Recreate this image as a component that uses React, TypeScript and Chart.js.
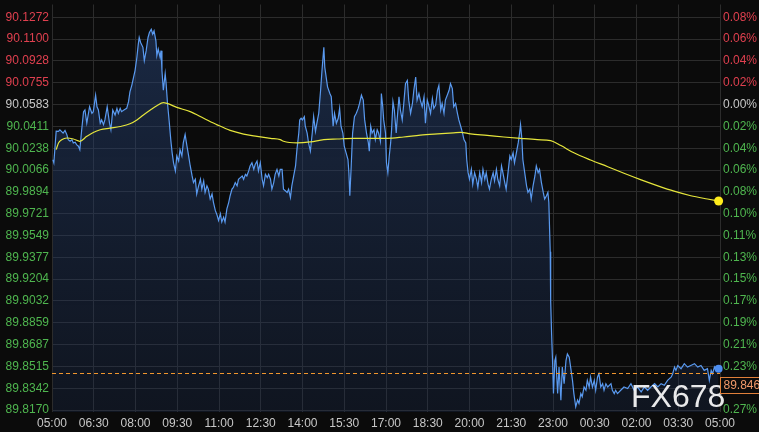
import React, { useEffect, useRef } from "react";
import { Chart, registerables } from "chart.js";

Chart.register(...registerables);

// ---- axis ticks ----
const xTickMinutes = [0, 90, 180, 270, 360, 450, 540, 630, 720, 810, 900, 990, 1080, 1170, 1260, 1350, 1440];
const xTickLabels = ["05:00", "06:30", "08:00", "09:30", "11:00", "12:30", "14:00", "15:30", "17:00", "18:30", "20:00", "21:30", "23:00", "00:30", "02:00", "03:30", "05:00"];
const priceTicks = [89.817, 89.8342, 89.8515, 89.8687, 89.8859, 89.9032, 89.9204, 89.9377, 89.9549, 89.9721, 89.9894, 90.0066, 90.0238, 90.0411, 90.0583, 90.0755, 90.0928, 90.11, 90.1272];
const percentTickLabels = ["0.27%", "0.25%", "0.23%", "0.21%", "0.19%", "0.17%", "0.15%", "0.13%", "0.11%", "0.10%", "0.08%", "0.06%", "0.04%", "0.02%", "0.00%", "0.02%", "0.04%", "0.06%", "0.08%"];
const baselinePrice = 90.0583;
const lastPrice = 89.846;
const lastPriceLabel = "89.846";
const yMin = 89.81544;
const yMax = 90.13736;

// ---- price series (minutes after 05:00) ----
const priceMinutes = [
  2, 4, 9, 14, 17, 24, 28, 32, 35, 39,
  43, 46, 50, 53, 57, 60, 64, 68, 71, 75,
  81, 86, 89, 94, 97, 100, 104, 107, 111, 114,
  119, 124, 127, 131, 136, 140, 143, 147, 150, 155,
  161, 165, 168, 172, 176, 179, 183, 186, 188, 191,
  196, 199, 203, 207, 210, 214, 217, 220, 224, 226,
  229, 233, 235, 237, 240, 244, 246, 249, 251, 253,
  256, 259, 262, 266, 269, 273, 276, 280, 283, 287,
  291, 294, 298, 302, 305, 309, 312, 316, 320, 323,
  327, 330, 334, 337, 341, 345, 348, 352, 356, 359,
  363, 366, 370, 373, 377, 381, 384, 388, 391, 395,
  399, 402, 406, 410, 413, 417, 420, 424, 427, 431,
  435, 438, 442, 445, 449, 453, 456, 460, 464, 467,
  471, 474, 478, 481, 485, 489, 492, 496, 499, 503,
  507, 510, 514, 517, 521, 525, 528, 532, 534, 537,
  540, 544, 546, 550, 553, 557, 561, 564, 568, 571,
  575, 579, 582, 586, 588, 592, 594, 599, 602, 606,
  609, 613, 617, 620, 623, 627, 630, 634, 638, 640,
  642, 645, 648, 652, 656, 660, 663, 667, 671, 674,
  678, 682, 684, 687, 690, 694, 697, 701, 704, 708,
  710, 713, 715, 719, 721, 724, 727, 730, 732, 735,
  738, 742, 744, 748, 751, 755, 758, 762, 766, 769,
  773, 777, 780, 784, 787, 791, 794, 798, 802, 805,
  809, 812, 816, 820, 823, 827, 831, 834, 838, 841,
  845, 848, 852, 856, 859, 863, 866, 870, 874, 877,
  881, 885, 888, 892, 894, 897, 900, 904, 907, 911,
  915, 918, 922, 926, 929, 933, 936, 940, 943, 947,
  951, 954, 958, 961, 965, 969, 972, 976, 979, 983,
  987, 990, 994, 997, 1001, 1005, 1008, 1010, 1013, 1015,
  1019, 1023, 1026, 1030, 1033, 1037, 1041, 1044, 1048, 1051,
  1055, 1059, 1062, 1066, 1069, 1071, 1074, 1075, 1077, 1079,
  1081, 1084, 1086, 1090, 1093, 1097, 1100, 1104, 1108, 1111,
  1115, 1118, 1122, 1125, 1129, 1133, 1136, 1140, 1143, 1147,
  1151, 1154, 1158, 1161, 1165, 1169, 1172, 1176, 1179, 1183,
  1187, 1190, 1194, 1198, 1205, 1208, 1212, 1215, 1219, 1226,
  1233, 1241, 1248, 1255, 1262, 1270, 1277, 1284, 1291, 1299,
  1306, 1313, 1320, 1327, 1335, 1338, 1342, 1345, 1349, 1356,
  1363, 1370, 1377, 1385, 1392, 1399, 1406, 1413, 1417, 1421,
  1424, 1428, 1431, 1437,
];
const priceValues = [
  90.0147, 90.0123, 90.0373, 90.0371, 90.0384, 90.0358, 90.0379, 90.0346, 90.0306, 90.0293,
  90.0306, 90.028, 90.0285, 90.0267, 90.0254, 90.0227, 90.0384, 90.0527, 90.054, 90.0436,
  90.0566, 90.0514, 90.0527, 90.0657, 90.0566, 90.054, 90.0436, 90.0462, 90.0424, 90.0462,
  90.0566, 90.0436, 90.0384, 90.054, 90.0501, 90.0553, 90.0514, 90.0553, 90.0527, 90.054,
  90.0553, 90.0606, 90.0684, 90.0735, 90.0801, 90.0852, 90.0957, 90.1061, 90.1113, 90.1074,
  90.1035, 90.0931, 90.1009, 90.1113, 90.1152, 90.1178, 90.1139, 90.1165, 90.1087, 90.097,
  90.1022, 90.0957, 90.1009, 90.0852, 90.0696, 90.0827, 90.0749, 90.0592, 90.0514, 90.0436,
  90.0306, 90.0202, 90.0123, 90.0059, 90.0177, 90.0137, 90.0227, 90.0177, 90.028, 90.0346,
  90.0254, 90.0189, 90.0098, 90.0019, 89.9967, 89.9993, 89.9877, 89.9941, 89.9993, 89.9915,
  89.998, 89.9889, 89.9941, 89.9915, 89.9837, 89.9877, 89.9811, 89.9747, 89.9708, 89.9668,
  89.972, 89.9655, 89.9694, 89.9655, 89.9759, 89.9811, 89.9863, 89.9915, 89.9928, 89.9967,
  89.9941, 89.9993, 90.0006, 90.0019, 89.9993, 90.0032, 90.0019, 90.0059, 90.0098, 90.0123,
  90.0071, 90.011, 90.0137, 90.0059, 90.0123, 89.9993, 89.9941, 90.0032, 90.0006, 90.0032,
  89.9993, 89.9915, 89.9967, 90.0032, 90.0071, 90.0019, 90.0071, 90.0071, 89.9915, 89.9902,
  89.9889, 89.9915, 89.985, 89.9941, 90.0019, 90.0098, 90.0227, 90.0358, 90.0462, 90.0475,
  90.0462, 90.0488, 90.0412, 90.0358, 90.028, 90.0215, 90.0358, 90.0488, 90.0371, 90.0436,
  90.0514, 90.0696, 90.0852, 90.1035, 90.0879, 90.0774, 90.0723, 90.067, 90.0645, 90.0412,
  90.0514, 90.0436, 90.0475, 90.0553, 90.0412, 90.0358, 90.0254, 90.0202, 90.0149, 90.0045,
  89.9863, 90.0098, 90.0358, 90.0488, 90.0514, 90.0553, 90.0592, 90.0657, 90.0618, 90.0462,
  90.0358, 90.028, 90.0215, 90.0412, 90.0358, 90.0384, 90.0306, 90.0384, 90.0358, 90.0293,
  90.067, 90.0566, 90.0462, 90.0358, 90.0123, 90.0045, 90.0177, 90.028, 90.0384, 90.0606,
  90.054, 90.0358, 90.0462, 90.0645, 90.054, 90.0462, 90.0579, 90.0749, 90.0774, 90.0618,
  90.0514, 90.0592, 90.0696, 90.0801, 90.0618, 90.067, 90.0618, 90.0566, 90.0645, 90.0436,
  90.0618, 90.0579, 90.0514, 90.0631, 90.0553, 90.0579, 90.0696, 90.0735, 90.054, 90.0592,
  90.0514, 90.0618, 90.0657, 90.0696, 90.0749, 90.0709, 90.0566, 90.0592, 90.0514, 90.0462,
  90.0412, 90.0358, 90.0306, 90.028, 90.0149, 90.0045, 89.9993, 90.0071, 89.9954, 90.0045,
  89.9993, 89.9928, 90.0045, 89.9967, 90.0071, 89.9993, 90.0045, 89.9954, 89.9915, 89.9993,
  90.0045, 89.998, 90.0071, 89.9993, 89.9941, 90.0098, 90.0045, 89.9967, 89.9915, 90.0045,
  90.0177, 90.0149, 90.0202, 90.0123, 90.0202, 90.028, 90.0358, 90.0424, 90.0306, 90.0149,
  90.0045, 89.9941, 89.9889, 89.9915, 89.9837, 89.9941, 90.0019, 90.0098, 90.0045, 90.0071,
  89.9967, 89.9889, 89.9837, 89.9863, 89.9889, 89.9811, 89.942, 89.903, 89.8769, 89.8561,
  89.83, 89.8561, 89.8587, 89.83, 89.8509, 89.8248, 89.8509, 89.8378, 89.8561, 89.8613,
  89.8587, 89.8509, 89.8404, 89.83, 89.8196, 89.8248, 89.8222, 89.83, 89.8275, 89.8352,
  89.8326, 89.8404, 89.8352, 89.8431, 89.8352, 89.8404, 89.8326, 89.8431, 89.8457, 89.8352,
  89.8378, 89.8326, 89.8378, 89.8352, 89.8378, 89.8326, 89.83, 89.8326, 89.83, 89.8326,
  89.8352, 89.834, 89.8378, 89.8326, 89.8352, 89.8313, 89.8352, 89.8326, 89.8352, 89.8378,
  89.8352, 89.8378, 89.8365, 89.8404, 89.8431, 89.8457, 89.8509, 89.8483, 89.8522, 89.8496,
  89.8536, 89.8509, 89.8522, 89.8536, 89.8509, 89.8522, 89.8483, 89.8496, 89.8404, 89.8483,
  89.8457, 89.8509, 89.8483, 89.8496,
];

// ---- moving average (yellow) ----
const avgMinutes = [
  9, 14, 21, 32, 46, 60, 75, 89, 104, 125,
  147, 168, 183, 197, 212, 226, 240, 248, 269, 298,
  327, 356, 384, 413, 442, 471, 492, 499, 528, 557,
  586, 615, 650, 687, 723, 758, 794, 831, 866, 881,
  902, 938, 974, 1010, 1046, 1075, 1097, 1125, 1161, 1198,
  1233, 1270, 1306, 1341, 1377, 1413, 1437,
];
const avgValues = [
  90.0227, 90.028, 90.0306, 90.0319, 90.0311, 90.0293, 90.0332, 90.0363, 90.0384, 90.0397,
  90.041, 90.0431, 90.0462, 90.0501, 90.054, 90.0574, 90.0598, 90.0592, 90.0561, 90.0527,
  90.0475, 90.0423, 90.0379, 90.035, 90.0332, 90.0316, 90.0306, 90.0293, 90.028, 90.0288,
  90.0306, 90.0311, 90.0316, 90.0316, 90.0316, 90.0327, 90.0342, 90.0352, 90.036, 90.0363,
  90.0352, 90.034, 90.0327, 90.0316, 90.0306, 90.0298, 90.0259, 90.0202, 90.0145, 90.0092,
  90.004, 89.9988, 89.9941, 89.9899, 89.9863, 89.9837, 89.9821,
];

const FONT = '"Liberation Sans", Arial, sans-serif';
const RED = "#e0404f";
const GREEN = "#4fb64f";
const NEUTRAL = "#c8c8c8";
const GRID = "#2c2c2c";

function tickColor(v: number) {
  if (Math.abs(v - baselinePrice) < 1e-6) return NEUTRAL;
  return v > baselinePrice ? RED : GREEN;
}

const overlayPlugin = {
  id: "overlay",
  afterDatasetsDraw(chart: any) {
    const { ctx, chartArea } = chart;
    const y = Math.round(chart.scales.y.getPixelForValue(lastPrice)) + 0.5;
    ctx.save();
    ctx.strokeStyle = "#f0962e";
    ctx.lineWidth = 1;
    ctx.setLineDash([4, 3]);
    ctx.beginPath();
    ctx.moveTo(chartArea.left, y);
    ctx.lineTo(chartArea.right, y);
    ctx.stroke();
    ctx.restore();
  },
  afterDraw(chart: any) {
    const { ctx, chartArea } = chart;
    const y = Math.round(chart.scales.y.getPixelForValue(lastPrice));
    ctx.save();
    // watermark
    ctx.font = `32px ${FONT}`;
    ctx.fillStyle = "rgba(245,245,245,0.95)";
    ctx.textAlign = "left";
    ctx.textBaseline = "alphabetic";
    ctx.fillText("FX678", 631, 407);
    // last price box
    const bx = chartArea.right + 0.5;
    const by = y + 4.5;
    ctx.fillStyle = "#0b0b0b";
    ctx.fillRect(bx, by, 40, 16);
    ctx.strokeStyle = "#e0803a";
    ctx.lineWidth = 1;
    ctx.strokeRect(bx, by, 40, 16);
    ctx.font = `12px ${FONT}`;
    ctx.fillStyle = "#f29a6a";
    ctx.textBaseline = "middle";
    ctx.fillText(lastPriceLabel, bx + 3, by + 8.5);
    ctx.restore();
  },
};

export default function App() {
  const ref = useRef<HTMLCanvasElement>(null);

  useEffect(() => {
    const canvas = ref.current;
    if (!canvas) return;
    const lastP = priceMinutes.length - 1;
    const lastA = avgMinutes.length - 1;
    const chart = new Chart(canvas, {
      type: "line",
      data: {
        datasets: [
          {
            label: "avg",
            data: avgMinutes.map((m, i) => ({ x: m, y: avgValues[i] })),
            borderColor: "#e6e63c",
            borderWidth: 1.2,
            cubicInterpolationMode: "monotone",
            fill: false,
            pointRadius: (c: any) => (c.dataIndex === lastA ? 4.5 : 0),
            pointBackgroundColor: "#ffec1c",
            pointBorderWidth: 0,
            clip: 10,
            order: 0,
          } as any,
          {
            label: "price",
            data: priceMinutes.map((m, i) => ({ x: m, y: priceValues[i] })),
            borderColor: "#5a9af0",
            borderWidth: 1.2,
            tension: 0,
            fill: "start",
            backgroundColor: (c: any) => {
              const area = c.chart.chartArea;
              if (!area) return "rgba(30,50,90,0.4)";
              const g = c.chart.ctx.createLinearGradient(0, area.top, 0, area.bottom);
              g.addColorStop(0, "rgba(40,68,118,0.55)");
              g.addColorStop(1, "rgba(28,46,82,0.3)");
              return g;
            },
            pointRadius: (c: any) => (c.dataIndex === lastP ? 4 : 0),
            pointBackgroundColor: "#4e8ef0",
            pointBorderWidth: 0,
            clip: 10,
            order: 1,
          } as any,
        ],
      },
      options: {
        animation: false,
        responsive: false,
        events: [],
        layout: { padding: 0 },
        plugins: { legend: { display: false }, tooltip: { enabled: false } },
        scales: {
          x: {
            type: "linear",
            min: 0,
            max: 1440,
            afterBuildTicks: (s: any) => {
              s.ticks = xTickMinutes.map((v) => ({ value: v }));
            },
            afterFit: (s: any) => {
              s.height = 20;
              s.paddingLeft = 0;
              s.paddingRight = 0;
            },
            ticks: {
              autoSkip: false,
              maxRotation: 0,
              padding: 4,
              color: NEUTRAL,
              font: { family: FONT, size: 12 },
              callback: (_v: any, i: number) => xTickLabels[i],
            },
            grid: { color: GRID, drawTicks: false, lineWidth: 1 },
            border: { display: false },
          },
          y: {
            type: "linear",
            position: "left",
            min: yMin,
            max: yMax,
            afterBuildTicks: (s: any) => {
              s.ticks = priceTicks.map((v) => ({ value: v }));
            },
            afterFit: (s: any) => {
              s.width = 52;
              s.paddingTop = 0;
              s.paddingBottom = 0;
            },
            ticks: {
              padding: 3,
              font: { family: FONT, size: 12 },
              color: (c: any) => tickColor(c.tick.value),
              callback: (_v: any, i: number) => priceTicks[i].toFixed(4),
            },
            grid: { color: GRID, drawTicks: false, lineWidth: 1 },
            border: { display: false },
          },
          y2: {
            type: "linear",
            position: "right",
            min: yMin,
            max: yMax,
            afterBuildTicks: (s: any) => {
              s.ticks = priceTicks.map((v) => ({ value: v }));
            },
            afterFit: (s: any) => {
              s.width = 39;
              s.paddingTop = 0;
              s.paddingBottom = 0;
            },
            ticks: {
              padding: 3,
              font: { family: FONT, size: 12 },
              color: (c: any) => tickColor(c.tick.value),
              callback: (_v: any, i: number) => percentTickLabels[i],
            },
            grid: { display: false, drawTicks: false },
            border: { display: false },
          },
        },
      } as any,
      plugins: [overlayPlugin],
    });
    return () => chart.destroy();
  }, []);

  return (
    <div style={{ position: "fixed", left: 0, top: 0, width: 759, height: 432, background: "#0b0b0b" }}>
      <canvas ref={ref} width={759} height={432} style={{ display: "block", width: 759, height: 432 }} />
    </div>
  );
}
